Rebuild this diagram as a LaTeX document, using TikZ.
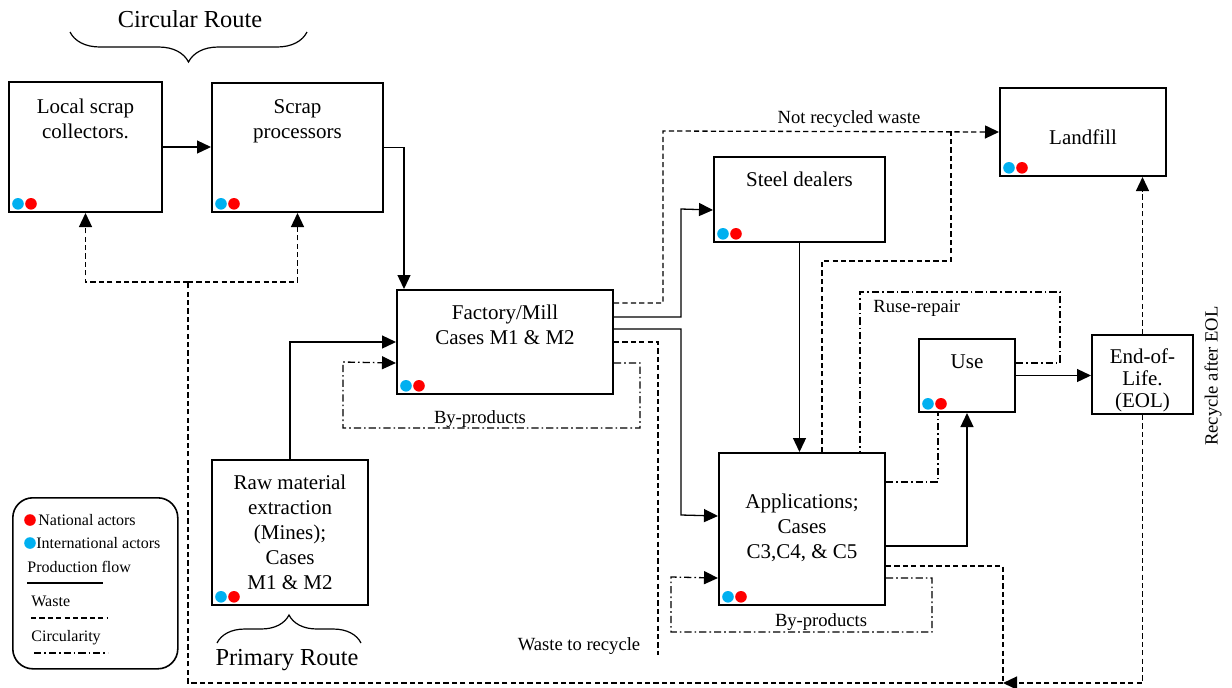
\documentclass[tikz,border=0pt]{standalone}
\usepackage{fontspec}
\setmainfont{Liberation Serif}
\usetikzlibrary{arrows.meta,decorations.pathreplacing}
\definecolor{natred}{RGB}{255,0,0}
\definecolor{intblue}{RGB}{0,176,240}
\newcommand{\actors}[1]{%
	\fill[intblue] ([xshift=5pt,yshift=4.6pt]#1.south west) circle (2.9pt);
	\fill[natred] ([xshift=11.5pt,yshift=4.6pt]#1.south west) circle (2.9pt);}
\begin{document}
\begin{tikzpicture}[x=0.5pt,y=-0.5pt,
	box/.style={draw,line width=1pt,inner sep=0pt,anchor=north west},
	boxtext/.style={anchor=north,align=center,inner sep=0pt,font=\fontsize{10.5}{12.4}\selectfont},
	lbl/.style={inner sep=0pt,font=\fontsize{9.3}{11}\selectfont},
	legtext/.style={anchor=west,inner sep=0pt,font=\fontsize{8}{9.5}\selectfont},
	title/.style={inner sep=0pt,font=\fontsize{12.2}{14}\selectfont},
	flow/.style={line width=0.65pt},
	waste/.style={line width=0.65pt,dash pattern=on 2.6pt off 1.6pt},
	circ/.style={line width=0.65pt,dash pattern=on 3.6pt off 1.5pt on 0.8pt off 1.5pt},
	tip/.style={-{Triangle[length=7pt,width=6.5pt]}},
	brc/.style={decorate,line width=0.6pt}]
		\useasboundingbox (0,0) rectangle (1232,687);
		\node[box,minimum width=76.5pt,minimum height=65pt](lsc) at (8,81) {};
		\node[box,minimum width=85.5pt,minimum height=64.5pt](sp) at (211,82) {};
		\node[box,minimum width=108pt,minimum height=52pt](fm) at (396,289) {};
		\node[box,minimum width=78pt,minimum height=72.5pt](raw) at (211,459) {};
		\node[box,minimum width=85.5pt,minimum height=42.5pt](sd) at (713,156) {};
		\node[box,minimum width=83pt,minimum height=76pt](app) at (718,452) {};
		\node[box,minimum width=48pt,minimum height=36.5pt](use) at (918,338) {};
		\node[box,minimum width=50.5pt,minimum height=39.5pt](eol) at (1091,334) {};
		\node[box,minimum width=83pt,minimum height=44pt](land) at (999,87) {};
		\node[boxtext](lsct) at ([yshift=-9pt]lsc.north) {Local scrap\\collectors.};
		\node[boxtext](spt) at ([yshift=-8.5pt]sp.north) {Scrap\\processors};
		\node[boxtext](fmt) at ([yshift=-8pt]fm.north) {Factory/Mill\\Cases M1 \& M2};
		\node[boxtext](rawt) at ([yshift=-8pt]raw.north) {Raw material\\extraction\\(Mines);\\Cases\\M1 \& M2};
		\node[boxtext](sdt) at ([yshift=-8pt]sd.north) {Steel dealers};
		\node[boxtext](appt) at ([yshift=-21pt]app.north) {Applications;\\Cases\\C3,C4, \& C5};
		\node[boxtext](uset) at ([yshift=-8pt]use.north) {Use};
		\node[boxtext,font=\fontsize{10.5}{11}\selectfont](eolt) at ([yshift=-7pt]eol.north) {End-of-\\Life.\\(EOL)};
		\node[boxtext](landt) at ([yshift=-21pt]land.north) {Landfill};
		\actors{lsc} \actors{sp} \actors{fm} \actors{raw} \actors{sd}
		\actors{app} \actors{use} \actors{land}
		\node[title](circroute) at (190,19) {Circular Route};
		\node[title](primroute) at (287,660) {Primary Route};
		\draw[brc,decoration={brace,amplitude=15pt,mirror}] (70,32) -- (307,32);
		\draw[brc,decoration={brace,amplitude=14pt}] (217,643) -- (361,643);
		\node[lbl](notrec) at (849,119) {Not recycled waste};
		\node[lbl](byfm) at (480,419) {By-products};
		\node[lbl](byapp) at (821,622) {By-products};
		\node[lbl](wrec) at (579,646) {Waste to recycle};
		\node[lbl,anchor=west](ruse) at (873,308) {Ruse-repair};
		\node[lbl,rotate=90](receol) at (1213,376) {Recycle after EOL};
		\coordinate (junc) at (1003,683);
		\coordinate (split) at (188,282);
		\coordinate (wend) at (658,655);
		\draw[flow,tip] (lsc.east) -- (lsc.east -| sp.west);
		\draw[flow,tip] (sp.east) -| ([xshift=4pt]fm.north west);
		\draw[flow,tip] (raw.north) |- (fm.west);
		\draw[flow,tip] ([yshift=12.5pt]fm.east) -| (681,209) -- ([yshift=-5.25pt]sd.west);
		\draw[flow,tip] ([yshift=6.5pt]fm.east) -| (681,515) -- ([yshift=6.5pt]app.west);
		\draw[waste,tip] ([yshift=19.5pt]fm.east) -| (663,131) -- (land.west);
		\draw[waste] (fm.east) -| (wend);
		\draw[circ,tip] ([yshift=-10.5pt]fm.east) -| (640,428) -| (343,362) -- ([yshift=-10.5pt]fm.west);
		\draw[waste] ([xshift=10pt]app.north) |- (951,261) -- (951,131);
		\draw[flow,tip] (sd.south) -- (sd.south |- app.north);
		\draw[flow,tip] ([yshift=-8.5pt]app.east) -| (use.south);
		\draw[circ] ([yshift=23.5pt]app.east) -| ([xshift=10pt]use.south west);
		\draw[circ,tip] ([yshift=-24.5pt]app.east) -| (932,632) -| (671,577) -- ([yshift=-24.5pt]app.west);
		\draw[waste] ([yshift=-18.5pt]app.east) -| (junc);
		\draw[circ] ([yshift=6.25pt]use.east) -| (1060,292) -| ([xshift=29pt]app.north);
		\draw[flow,tip] (use.east) -- (use.east -| eol.west);
		\draw[waste,tip] (eol.north) -- (eol.north |- land.south);
		\draw[waste,tip] (eol.south) |- (junc);
		\draw[waste] (junc) -| (split);
		\draw[waste,tip] (split) -| (lsc.south);
		\draw[waste,tip] (split) -| (sp.south);
		\node[draw,line width=0.8pt,rounded corners=10pt,minimum width=82.5pt,minimum height=85.5pt,anchor=north west](legend) at (12,497) {};
		\fill[natred] (30,520) circle (2.9pt);
		\fill[intblue] (30,543) circle (2.9pt);
		\node[legtext](natl) at (38,520) {National actors};
		\node[legtext](intl) at (36,543) {International actors};
		\node[legtext](prodl) at (27,567) {Production flow};
		\node[legtext](wastel) at (31,601) {Waste};
		\node[legtext](circl) at (31,638) {Circularity};
		\draw[flow] (27,583) -- (103,583);
		\draw[waste] (31,618) -- (107,618);
		\draw[circ] (34,653) -- (108,653);
\end{tikzpicture}
\end{document}
